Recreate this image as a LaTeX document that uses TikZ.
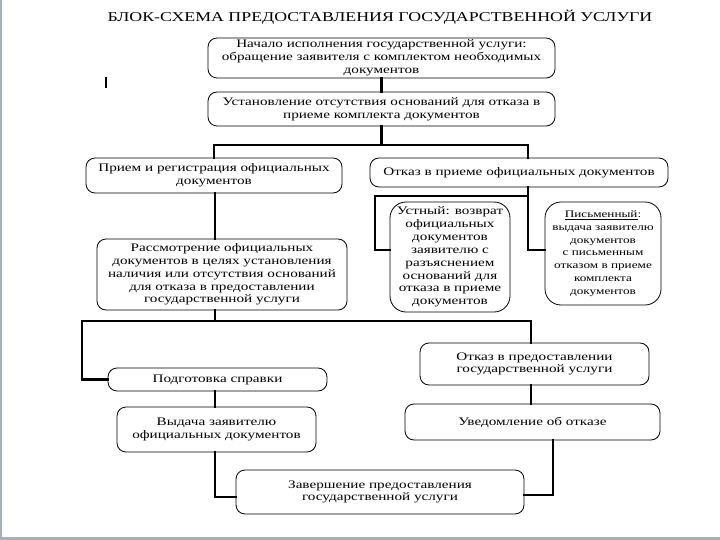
\documentclass[tikz,border=0pt]{standalone}
\usepackage{fontspec}
\setmainfont{Liberation Serif}[FakeStretch=1.32]
\usetikzlibrary{calc}
\definecolor{framecol}{RGB}{168,176,184}
\tikzset{
  box/.style={draw=black, line width=0.8pt, rounded corners=9pt, inner sep=0pt, align=center,
    font=\fontsize{11.5}{12.8}\selectfont},
  bigbox/.style={box, rounded corners=16pt},
  conn/.style={draw=black, line width=2.6pt, line cap=rect},
}
\begin{document}
\begin{tikzpicture}[x=1pt,y=-1pt]
\useasboundingbox (0,0) rectangle (720,540);
\fill[white] (0,0) rectangle (720,540);
\fill[framecol] (0,0) rectangle (2,540);
\fill[framecol] (0,537) rectangle (720,540);

\node[font=\fontsize{13.5}{15}\selectfont] (title) at (380,17) {БЛОК-СХЕМА ПРЕДОСТАВЛЕНИЯ ГОСУДАРСТВЕННОЙ УСЛУГИ};

\node[box, minimum width=347pt, minimum height=40pt] (b1) at (381.5,58)
  {Начало исполнения государственной услуги:\\обращение заявителя с комплектом необходимых\\документов};
\node[box, minimum width=347pt, minimum height=34pt] (b2) at (381.5,109)
  {Установление отсутствия оснований для отказа в\\приеме комплекта документов};
\node[box, minimum width=256pt, minimum height=35pt] (b3) at (214,175.5)
  {Прием и регистрация официальных\\документов};
\node[box, minimum width=298pt, minimum height=29pt] (b4) at (519,172.5)
  {Отказ в приеме официальных документов};
\node[box, minimum width=250pt, minimum height=71pt] (b5) at (222,274.5)
  {Рассмотрение официальных\\документов в целях установления\\наличия или отсутствия оснований\\для отказа в предоставлении\\государственной услуги};
\node[bigbox, minimum width=120pt, minimum height=110pt, font=\fontsize{11.5}{12.9}\selectfont] (u) at (450,257)
  {Устный: возврат\\официальных\\документов\\заявителю с\\разъяснением\\оснований для\\отказа в приеме\\документов};
\node[bigbox, minimum width=116pt, minimum height=103pt, font=\fontsize{10}{12.8}\selectfont] (p) at (603,253.5)
  {\underline{Письменный}:\\выдача заявителю\\документов\\с письменным\\отказом в приеме\\комплекта\\документов};
\node[box, minimum width=219pt, minimum height=23pt] (b6) at (217.5,379.5)
  {Подготовка справки};
\node[box, minimum width=229pt, minimum height=42pt] (b7) at (534.5,364)
  {Отказ в предоставлении\\государственной услуги};
\node[box, minimum width=199pt, minimum height=45pt] (b8) at (216.5,429.5)
  {Выдача заявителю\\официальных документов};
\node[box, minimum width=255pt, minimum height=36pt] (b9) at (532.5,422)
  {Уведомление об отказе};
\node[box, minimum width=288pt, minimum height=44pt] (b10) at (380,492)
  {Завершение предоставления\\государственной услуги};

% junction coordinates
\coordinate (hL) at (214,145);
\coordinate (hR) at (528,145);
\coordinate (kL) at (375,196);
\coordinate (yB) at (0,250);
\coordinate (m)  at (215,321);
\coordinate (mL) at (82,321);
\coordinate (mR) at (531,321);
\coordinate (yZ) at (0,497);
\coordinate (n)  at (553,495);
\coordinate (s1) at (106,77);
\coordinate (s2) at (106,88);

\draw[conn] (b1.south) -- (b2.north);
\draw[conn] (b2.south) -- (b2.south |- hL);
\draw[conn] (hL) -- (hR);
\draw[conn] (hL) -- (b3.north);
\draw[conn] (hR) -- (hR |- b4.north);
\draw[conn] (hR |- b4.south) -- (hR |- yB) -- (p.west |- yB);
\draw[conn] (kL) -- (kL -| hR);
\draw[conn] (kL) -- (kL |- yB) -- (u.west |- yB);
\draw[conn] (m |- b3.south) -- (m |- b5.north);
\draw[conn] (m |- b5.south) -- (m);
\draw[conn] (mL) -- (mR);
\draw[conn] (mL) |- (b6.west);
\draw[conn] (mR) -- (mR |- b7.north);
\draw[conn] (m |- b6.south) -- (m |- b8.north);
\draw[conn] (mR |- b7.south) -- (mR |- b9.north);
\draw[conn] (m |- b8.south) -- (m |- yZ) -- (b10.west |- yZ);
\draw[conn] (n |- b9.south) -- (n) -- (n -| b10.east);
\draw[conn, line cap=butt] (s1) -- (s2);
\end{tikzpicture}
\end{document}
